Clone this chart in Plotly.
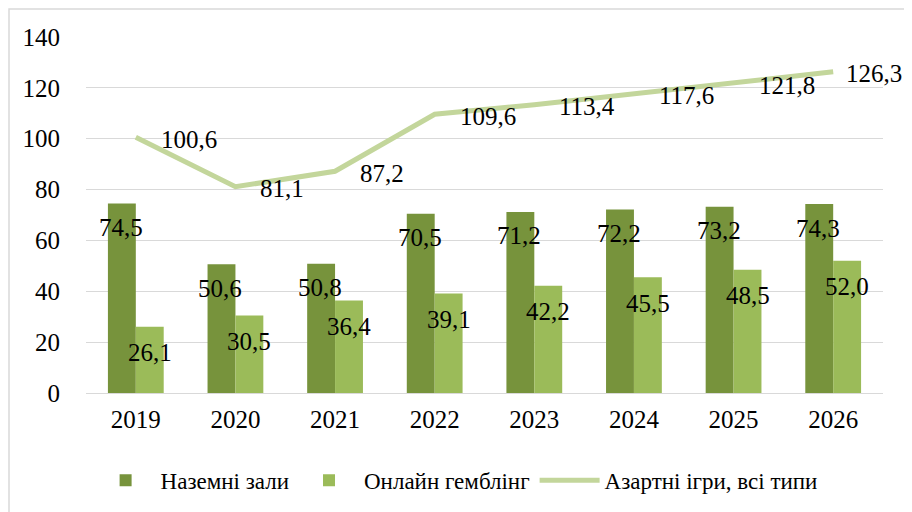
import plotly.graph_objects as go

years = ["2019", "2020", "2021", "2022", "2023", "2024", "2025", "2026"]
land_halls = [74.5, 50.6, 50.8, 70.5, 71.2, 72.2, 73.2, 74.3]
online = [26.1, 30.5, 36.4, 39.1, 42.2, 45.5, 48.5, 52.0]
all_types = [100.6, 81.1, 87.2, 109.6, 113.4, 117.6, 121.8, 126.3]

names = ["Наземні зали", "Онлайн гемблінг", "Азартні ігри, всі типи"]
dark = "#77933C"
light = "#9BBB59"
pale = "#C3D69B"
font = '"Liberation Serif", Tinos, "DejaVu Serif", serif'


def fmt(v):
    return f"{v:.1f}".replace(".", ",")


fig = go.Figure()
fig.add_trace(go.Bar(x=years, y=land_halls, name=names[0], marker_color=dark,
                     marker_line_width=0))
fig.add_trace(go.Bar(x=years, y=online, name=names[1], marker_color=light,
                     marker_line_width=0))
fig.add_trace(go.Scatter(x=years, y=all_types, name=names[2], mode="lines",
                         line=dict(color=pale, width=5)))

# annotations on a category axis take the category index
ann = []
for i, v in enumerate(land_halls):
    ann.append(dict(x=i, y=v, text=fmt(v), showarrow=False, xshift=-15, yshift=-24))
for i, v in enumerate(online):
    ann.append(dict(x=i, y=v, text=fmt(v), showarrow=False, xshift=14, yshift=-26))
for i, v in enumerate(all_types):
    shift = 11 if i == len(years) - 1 else 23
    ann.append(dict(x=i, y=v, text=fmt(v), showarrow=False, xanchor="left",
                    xshift=shift, yshift=-2))
for a in ann:
    a["font"] = dict(family=font, size=25, color="#000000")

# page body has an 8px margin, so the figure is 8px smaller and shifted
fig.update_layout(
    width=904, height=504,
    margin=dict(l=78, r=29, t=29, b=119, autoexpand=False),
    paper_bgcolor="white", plot_bgcolor="white",
    barmode="group", bargap=0.44, bargroupgap=0,
    font=dict(family=font, size=25, color="#000000"),
    annotations=ann,
    showlegend=True,
    legend=dict(orientation="h", x=0.465, xanchor="center", y=-0.245, yanchor="middle",
                font=dict(family=font, size=23), traceorder="normal", itemwidth=60),
    shapes=[dict(type="rect", xref="paper", yref="paper", x0=-0.0966, x1=1.0339,
                 y0=-0.4, y1=1.0787, line=dict(color="#D9D9D9", width=1.5))],
)
fig.update_xaxes(type="category", range=[-0.5, 7.5], automargin=False, showgrid=False,
                 showline=True, linecolor="#D9D9D9", linewidth=1, ticks="outside",
                 ticklen=4, tickcolor="rgba(0,0,0,0)")
fig.update_yaxes(range=[0, 140], dtick=20, automargin=False, showgrid=True,
                 gridcolor="#D9D9D9", gridwidth=1, zeroline=False, ticks="outside",
                 ticklen=20, tickcolor="rgba(0,0,0,0)")

fig.write_html("out.html")
